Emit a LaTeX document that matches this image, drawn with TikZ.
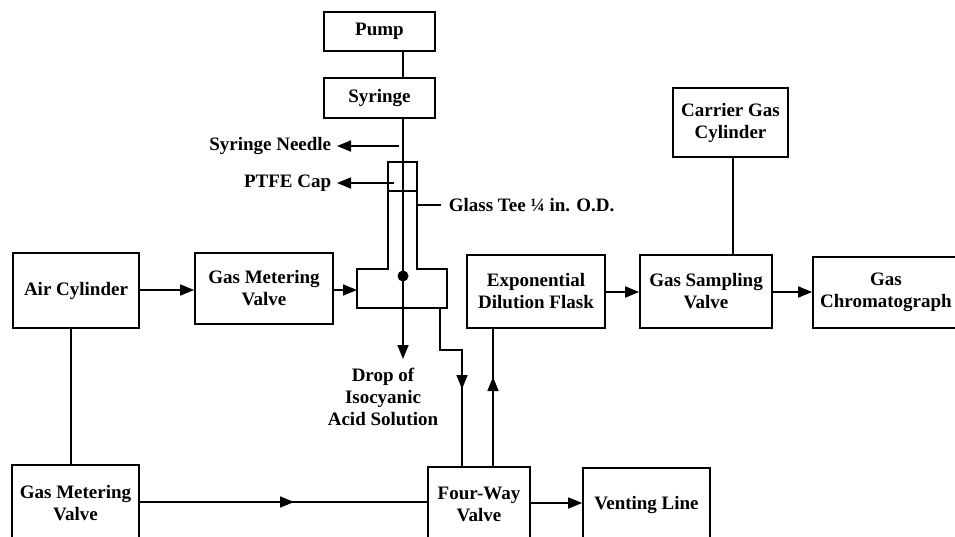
\documentclass[tikz,border=0pt]{standalone}
\usepackage{fontspec}
\setmainfont{Liberation Serif}
\usetikzlibrary{arrows.meta}
\begin{document}
\begin{tikzpicture}[x=1pt,y=-1pt,
  line width=1.7pt,
  box/.style={draw,rectangle,align=center,inner sep=2pt,font=\fontsize{19}{22}\selectfont\bfseries},
  lbl/.style={inner sep=0pt,align=center,font=\fontsize{19}{22}\selectfont\bfseries},
  arr/.style={-{Triangle[length=14pt,width=11pt]}}]
\useasboundingbox (0,0) rectangle (955,536);
\clip (0,0) rectangle (955,536);
% boxes
\node[box,minimum width=111pt,minimum height=39pt] (pump) at (379.5,31.5) {Pump};
\node[box,minimum width=111pt,minimum height=40pt] (syr) at (379.5,98) {Syringe};
\node[box,minimum width=115pt,minimum height=69pt] (cgc) at (730.5,122.5) {Carrier Gas\\Cylinder};
\node[box,minimum width=126pt,minimum height=75pt] (air) at (76,290.5) {Air Cylinder};
\node[box,minimum width=138pt,minimum height=71pt] (gmv1) at (264,288.5) {Gas Metering\\Valve};
\node[box,minimum width=138pt,minimum height=73pt] (edf) at (536,291.5) {Exponential\\Dilution Flask};
\node[box,minimum width=132pt,minimum height=73pt] (gsv) at (706,291.5) {Gas Sampling\\Valve};
\node[box,minimum width=146pt,minimum height=71pt] (gc) at (886,292.5) {Gas\\Chromatograph};
\node[box,minimum width=127pt,minimum height=76pt] (gmv2) at (75.5,503) {Gas Metering\\Valve};
\node[box,minimum width=102pt,minimum height=74pt] (fwv) at (479,504) {Four-Way\\Valve};
\node[box,minimum width=127pt,minimum height=74pt] (vent) at (646.5,505) {Venting Line};
% labels
\node[lbl,anchor=east] (lneedle) at (332,146) {Syringe Needle};
\node[lbl,anchor=east] (lcap) at (332,183) {PTFE Cap};
\node[lbl,anchor=west] (ltee) at (448,205) {Glass Tee ¼ in. O.D.};
\node[lbl] (ldrop) at (383,397) {Drop of\\Isocyanic\\Acid Solution};
% glass tee
\coordinate (t1) at (388,162);
\coordinate (t2) at (388,269);
\coordinate (t3) at (357,269);
\coordinate (t4) at (357,308);
\coordinate (t5) at (447,308);
\coordinate (t6) at (447,269);
\coordinate (t7) at (417,269);
\coordinate (t8) at (417,162);
\draw (t1) -- (t2) -- (t3) -- (t4) -- (t5) -- (t6) -- (t7) -- (t8) -- cycle;
\coordinate (c1) at (388,191);
\coordinate (c2) at (417,191);
\draw (c1) -- (c2);
% needle
\coordinate (ptop) at (403,51);
\coordinate (stop) at (403,78);
\coordinate (sbot) at (403,118);
\coordinate (dot) at (403,276);
\coordinate (drop) at (403,359);
\draw (ptop) -- (stop);
\draw (sbot) -- (dot);
\fill (dot) circle (5.5pt);
\draw[arr] (dot) -- (drop);
% label arrows
\coordinate (na) at (399,146);
\coordinate (nb) at (337,146);
\draw[arr] (na) -- (nb);
\coordinate (ca) at (394,183);
\coordinate (cb) at (337,183);
\draw[arr] (ca) -- (cb);
\coordinate (ga) at (417,205);
\coordinate (gb) at (441,205);
\draw (ga) -- (gb);
% main flow
\coordinate (teein) at (357,290);
\draw[arr] (air.east |- 0,290) -- (gmv1.west |- 0,290);
\draw[arr] (gmv1.east |- 0,290) -- (teein);
\draw[arr] (edf.east |- 0,292) -- (gsv.west |- 0,292);
\draw[arr] (gsv.east |- 0,292) -- (gc.west |- 0,292);
\coordinate (cg1) at (733,157);
\coordinate (cg2) at (733,255);
\draw (cg1) -- (cg2);
\coordinate (ac1) at (71,328);
\coordinate (ac2) at (71,465);
\draw (ac1) -- (ac2);
% bottom line with mid arrow
\coordinate (m1) at (139,502);
\coordinate (m2) at (294,502);
\coordinate (m3) at (428,502);
\draw (m1) -- (m3);
\draw[arr] (m1) -- (m2);
\draw[arr] (fwv.east |- 0,503) -- (vent.west |- 0,503);
% tee outlet
\coordinate (o1) at (440,308);
\coordinate (o2) at (440,350);
\coordinate (o3) at (462,350);
\coordinate (o4) at (462,389);
\coordinate (o5) at (462,467);
\draw (o3) -- (o5);
\draw[arr] (o1) -- (o2) -- (o3) -- (o4);
% up to flask
\coordinate (u1) at (493,467);
\coordinate (u2) at (493,377);
\coordinate (u3) at (493,328);
\draw (u1) -- (u3);
\draw[arr] (u1) -- (u2);
\end{tikzpicture}
\end{document}
